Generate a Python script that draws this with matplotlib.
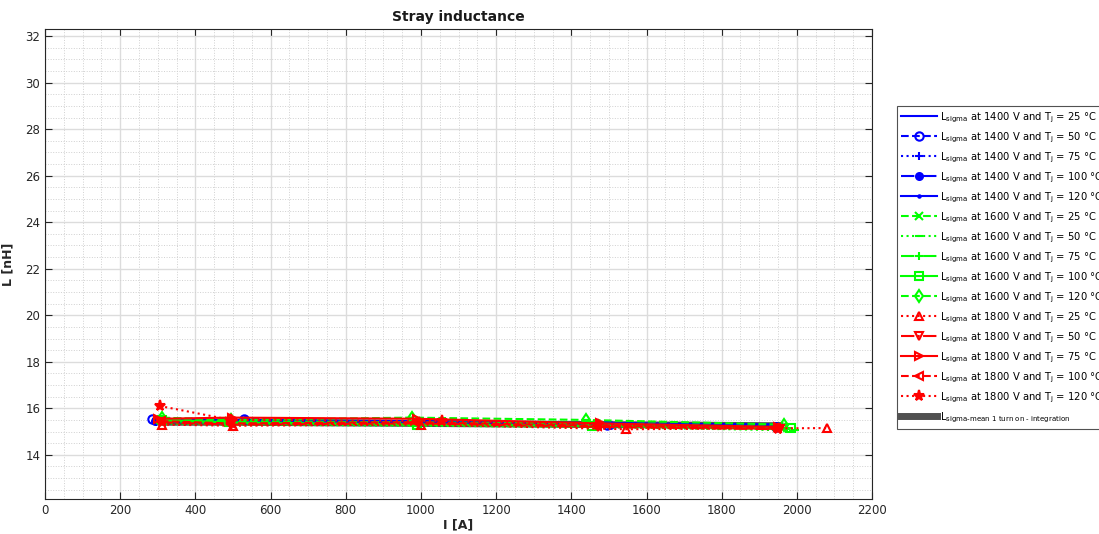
import matplotlib
matplotlib.use("Agg")
import matplotlib.pyplot as plt
from matplotlib.ticker import MultipleLocator

# ---- data ----
temps = [25, 50, 75, 100, 120]

i_1400 = [[290, 530, 1000, 1500, 1950],
          [285, 528, 995, 1495, 1945],
          [295, 530, 1000, 1500, 1950],
          [292, 532, 1002, 1502, 1948],
          [290, 530, 998, 1498, 1952]]
l_1400 = [[15.45, 15.5, 15.45, 15.35, 15.3],
          [15.55, 15.55, 15.4, 15.3, 15.2],
          [15.4, 15.45, 15.35, 15.3, 15.2],
          [15.45, 15.5, 15.4, 15.3, 15.25],
          [15.4, 15.45, 15.4, 15.35, 15.3]]

i_1600 = [[310, 490, 975, 1440, 1960],
          [305, 495, 985, 1450, 1995],
          [315, 492, 980, 1445, 1970],
          [310, 490, 990, 1455, 1985],
          [312, 494, 975, 1440, 1965]]
l_1600 = [[15.5, 15.45, 15.4, 15.35, 15.2],
          [15.35, 15.3, 15.25, 15.2, 15.05],
          [15.45, 15.35, 15.3, 15.25, 15.1],
          [15.5, 15.4, 15.3, 15.25, 15.15],
          [15.6, 15.5, 15.6, 15.5, 15.3]]

i_1800 = [[310, 500, 1000, 1545, 2080],
          [305, 495, 995, 1470, 1955],
          [300, 498, 990, 1475, 1950],
          [308, 492, 985, 1468, 1945],
          [305, 495, 1055, 1470, 1950]]
l_1800 = [[15.3, 15.25, 15.3, 15.1, 15.15],
          [15.4, 15.3, 15.35, 15.2, 15.1],
          [15.55, 15.6, 15.55, 15.35, 15.2],
          [15.45, 15.35, 15.4, 15.25, 15.15],
          [16.1, 15.5, 15.45, 15.3, 15.1]]

i_mean = [310, 500, 990, 1480, 1955]
l_mean = [15.4, 15.4, 15.35, 15.3, 15.25]

voltages = [1400, 1600, 1800]

# ---- styles ----
colors = {1400: '#0000FF', 1600: '#00FF00', 1800: '#FF0000'}
styles = {
    1400: [('-', None), ('--', 'o'), (':', '+'), ('-.', 'o'), ('-', '.')],
    1600: [('--', 'x'), (':', '_'), ('-.', '+'), ('-', 's'), ('--', 'd')],
    1800: [(':', '^'), ('-.', 'v'), ('-', '>'), ('--', '<'), (':', '*')],
}
data = {1400: (i_1400, l_1400), 1600: (i_1600, l_1600), 1800: (i_1800, l_1800)}

fig = plt.figure(figsize=(10.99, 5.34), dpi=100)
ax = fig.add_axes([0.041, 0.0655, 0.7525, 0.880])

handles = []
for v in voltages:
    xs, ys = data[v]
    for k, t in enumerate(temps):
        ls, mk = styles[v][k]
        filled = (v == 1400 and k == 3) or mk in ('.', '*')
        if v == 1400 and k == 3:
            ms = 5
        elif mk == '.':
            ms = 3.5
        elif mk == '*':
            ms = 8
        else:
            ms = 6
        h, = ax.plot(xs[k], ys[k], linestyle=ls, marker=mk, color=colors[v],
                     linewidth=1.5, markersize=ms,
                     markerfacecolor=colors[v] if filled else 'none',
                     markeredgewidth=1.5, zorder=3,
                     label=r'L$_{\mathrm{sigma}}$ at %d V and T$_{\mathrm{j}}$ = %d °C' % (v, t))
        handles.append(h)

hm, = ax.plot(i_mean, l_mean, color='#505050', linewidth=5, zorder=2.5,
              label=r'L$_{\text{sigma-mean 1 turn on - integration}}$')
handles.append(hm)

ax.set_xlim(0, 2200)
ax.set_ylim(12.1, 32.3)
ax.xaxis.set_major_locator(MultipleLocator(200))
ax.xaxis.set_minor_locator(MultipleLocator(50))
ax.yaxis.set_major_locator(MultipleLocator(2))
ax.yaxis.set_minor_locator(MultipleLocator(0.5))
ax.grid(True, which='major', color='#dcdcdc', linewidth=1.0)
ax.grid(True, which='minor', color='#d0d0d0', linestyle=':', linewidth=0.7)
ax.set_axisbelow(True)
ax.tick_params(which='major', direction='in', length=5, top=True, right=True,
               labelsize=8.5, colors='#262626', labelcolor='#262626')
ax.tick_params(which='minor', length=0)
for s in ax.spines.values():
    s.set_color('#262626')
    s.set_linewidth(0.8)

ax.set_title('Stray inductance', fontsize=10, fontweight='bold', color='#1a1a1a')
ax.set_ylabel('L [nH]', fontsize=9, fontweight='bold', color='#262626', labelpad=8)
ax.set_xlabel('I [A]', fontsize=9, fontweight='bold', color='#262626', labelpad=1)

leg = ax.legend(handles=handles, loc='upper left', bbox_to_anchor=(1.03, 0.836),
                fontsize=7.2, frameon=True, fancybox=False, edgecolor='#262626',
                labelspacing=0.56, handlelength=3.6, handletextpad=0.3,
                borderpad=0.4, borderaxespad=0)
leg.get_frame().set_linewidth(0.8)

fig.savefig('out.png', dpi=100)
